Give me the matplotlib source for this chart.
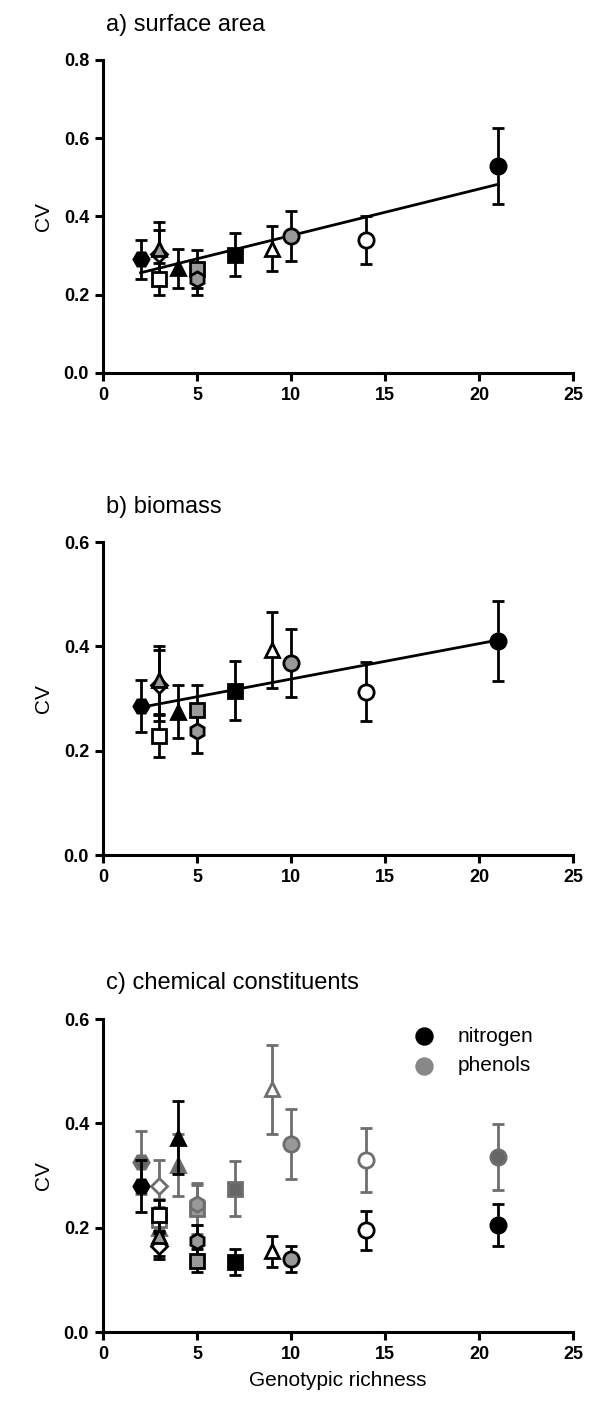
import matplotlib.pyplot as plt
import numpy as np

plt.rcParams['font.family'] = ['Liberation Sans', 'DejaVu Sans']

# genotypic richness of each plot, with marker shape and fill
richness = [2, 3, 3, 3, 4, 5, 5, 7, 9, 10, 14, 21]
markers = ['H', 'D', '^', 's', '^', 's', 'h', 's', '^', 'o', 'o', 'o']
fills = ['k', 'w', 'g', 'w', 'k', 'g', 'g', 'k', 'w', 'g', 'w', 'k']

# a) surface area
area_cv = [0.29, 0.303, 0.318, 0.24, 0.268, 0.265, 0.24, 0.302, 0.318, 0.35, 0.34, 0.53]
area_se = [0.05, 0.062, 0.067, 0.04, 0.05, 0.048, 0.04, 0.055, 0.058, 0.063, 0.062, 0.097]
area_fit = [0.256, 0.482]

# b) biomass
mass_cv = [0.285, 0.325, 0.335, 0.228, 0.275, 0.278, 0.238, 0.315, 0.393, 0.368, 0.313, 0.41]
mass_se = [0.05, 0.068, 0.065, 0.04, 0.05, 0.048, 0.042, 0.057, 0.072, 0.066, 0.057, 0.077]
mass_fit = [0.283, 0.412]
fit_x = [2, 21]

# c) chemical constituents
nitro_cv = [0.28, 0.165, 0.185, 0.224, 0.372, 0.137, 0.175, 0.135, 0.155, 0.14, 0.195, 0.205]
nitro_se = [0.05, 0.025, 0.04, 0.03, 0.07, 0.022, 0.03, 0.025, 0.03, 0.025, 0.037, 0.04]
phen_cv = [0.325, 0.28, 0.2, 0.215, 0.32, 0.235, 0.245, 0.275, 0.465, 0.36, 0.33, 0.335]
phen_se = [0.06, 0.05, 0.04, 0.04, 0.06, 0.047, 0.04, 0.053, 0.085, 0.067, 0.062, 0.063]

GRAY = '#6e6e6e'
face_black = {'k': 'black', 'g': '#999999', 'w': 'white'}
face_gray = {'k': '#666666', 'g': '#999999', 'w': 'white'}


def draw_points(ax, cv, se, edge, faces, z=3):
    for x, y, e, m, f in zip(richness, cv, se, markers, fills):
        ms = 11 if m in ('o', 'H', 'h') else 10
        if m == 'D':
            ms = 8
        ax.errorbar(x, y, yerr=e, fmt=m, ms=ms, mfc=faces[f], mec=edge, mew=2,
                    ecolor=edge, elinewidth=2, capsize=4.5, capthick=2, zorder=z)


def style_axes(ax, ymax):
    ax.set_xlim(0, 25)
    ax.set_ylim(0, ymax)
    ax.set_xticks(np.arange(0, 26, 5))
    ax.set_yticks(np.arange(0, ymax + 0.01, 0.2))
    ax.set_yticklabels([f'{v:.1f}' for v in np.arange(0, ymax + 0.01, 0.2)])
    for s in ['top', 'right']:
        ax.spines[s].set_visible(False)
    for s in ['left', 'bottom']:
        ax.spines[s].set_linewidth(2.2)
    ax.tick_params(width=2.2, length=6, labelsize=13, pad=4)
    for lab in ax.get_xticklabels() + ax.get_yticklabels():
        lab.set_fontweight('bold')
    ax.set_ylabel('CV', fontsize=15, labelpad=8)


fig = plt.figure(figsize=(5.92, 14.10), dpi=100)
left, width, height = 0.174, 0.794, 0.222

ax1 = fig.add_axes([left, 0.7355, width, height])
ax1.plot(fit_x, area_fit, color='black', lw=2, zorder=2)
draw_points(ax1, area_cv, area_se, 'black', face_black)
style_axes(ax1, 0.8)
fig.text(106 / 592, 1 - 25 / 1410, 'a) surface area', fontsize=17, va='center')

ax2 = fig.add_axes([left, 0.3936, width, height])
ax2.plot(fit_x, mass_fit, color='black', lw=2, zorder=2)
draw_points(ax2, mass_cv, mass_se, 'black', face_black)
style_axes(ax2, 0.6)
fig.text(106 / 592, 1 - 507 / 1410, 'b) biomass', fontsize=17, va='center')

ax3 = fig.add_axes([left, 0.0553, width, height])
draw_points(ax3, phen_cv, phen_se, GRAY, face_gray, z=3)
draw_points(ax3, nitro_cv, nitro_se, 'black', face_black, z=4)
style_axes(ax3, 0.6)
ax3.set_xlabel('Genotypic richness', fontsize=15, labelpad=6)
fig.text(106 / 592, 1 - 983 / 1410, 'c) chemical constituents', fontsize=17, va='center')

h1 = ax3.scatter([], [], s=150, color='black', label='nitrogen')
h2 = ax3.scatter([], [], s=150, color='#888888', label='phenols')
ax3.legend(handles=[h1, h2], loc='upper right', bbox_to_anchor=(0.955, 1.035), frameon=False,
           fontsize=15, handletextpad=0.6, labelspacing=0.5)

fig.savefig('out.png', dpi=100)
